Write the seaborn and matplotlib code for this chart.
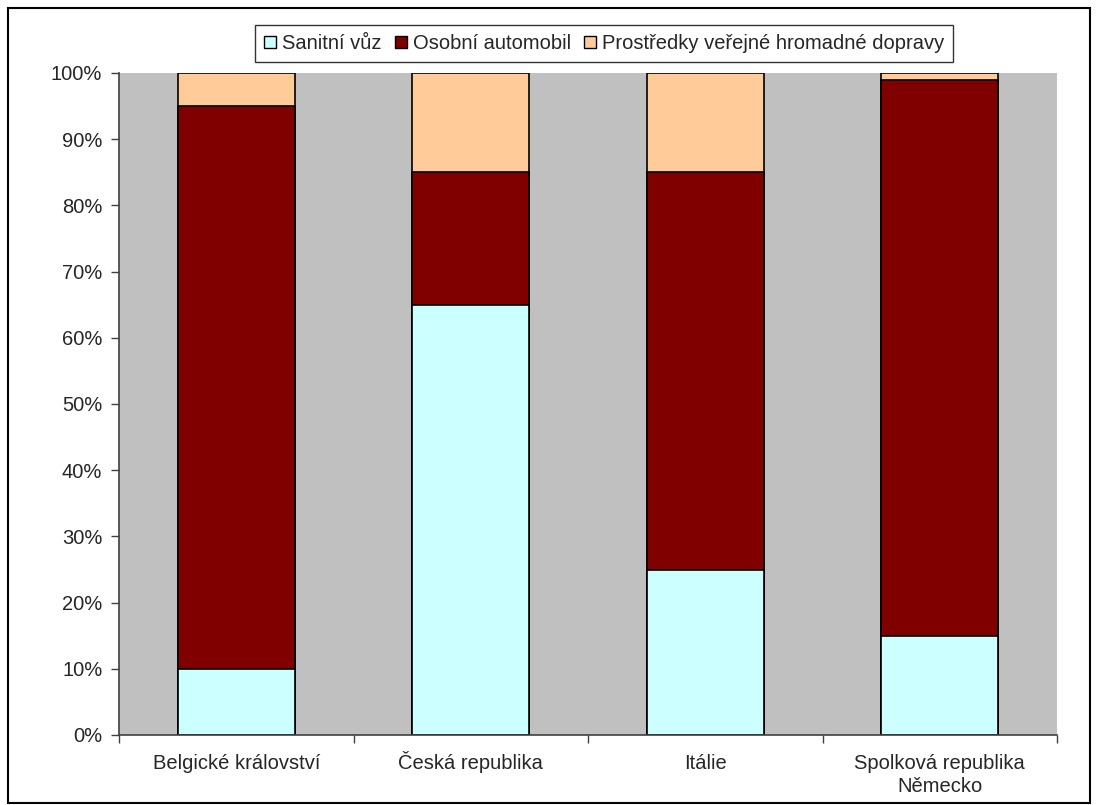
import matplotlib
matplotlib.use("Agg")
import matplotlib.pyplot as plt
import matplotlib.ticker as mticker
import matplotlib.transforms as mtransforms
from matplotlib.patches import Rectangle, Patch
import numpy as np
import pandas as pd
import seaborn as sns

countries = ["Belgické království", "Česká republika", "Itálie", "Spolková republika\nNěmecko"]
series_names = ["Sanitní vůz", "Osobní automobil", "Prostředky veřejné hromadné dopravy"]
sanitni = [10, 65, 25, 15]
osobni = [85, 20, 60, 84]
verejne = [5, 15, 15, 1]
colors = ["#CCFFFF", "#800000", "#FFCC99"]

sns.set_theme(style="white")
plt.rcParams["font.family"] = ["Liberation Sans", "DejaVu Sans"]

df = pd.DataFrame({"country": countries, "s1": sanitni, "s2": osobni, "s3": verejne})
df["c1"] = df["s1"]
df["c2"] = df["s1"] + df["s2"]
df["c3"] = df["c2"] + df["s3"]

fig = plt.figure(figsize=(10.98, 8.05), dpi=100)
ax = fig.add_axes([119 / 1098, 1 - 735 / 805, (1057 - 119) / 1098, (735 - 73) / 805])
ax.set_facecolor("#C0C0C0")

# stacked bars drawn as cumulative layers, tallest first
for col, color in zip(["c3", "c2", "c1"], colors[::-1]):
    sns.barplot(data=df, x="country", y=col, color=color, saturation=1,
                width=0.5, edgecolor="black", linewidth=1.2, ax=ax, zorder=2)

ax.set_xlim(-0.5, 3.5)
ax.set_ylim(0, 100)
ax.set_xlabel("")
ax.set_ylabel("")
ax.yaxis.set_major_locator(mticker.MultipleLocator(10))
ax.yaxis.set_major_formatter(mticker.FuncFormatter(lambda v, p: f"{int(v)}%"))
ax.set_xticks(range(4))
ax.set_xticklabels(countries, fontsize=14.5, linespacing=1.25)
ax.set_xticks(np.arange(-0.5, 4, 1), minor=True)
ax.tick_params(axis="x", which="major", length=0, pad=13.5)
ax.tick_params(axis="x", which="minor", length=6, width=1, color="#404040", direction="out", bottom=True)
ax.tick_params(axis="y", length=6, width=1, color="#404040", direction="out", left=True, labelsize=14.5, pad=6)
for lbl in ax.get_xticklabels():
    lbl.set_horizontalalignment("center")
    lbl.set_verticalalignment("top")
    lbl.set_multialignment("center")
    # the caron on "Č" raises the ink top; lift that label so baselines line up
    if lbl.get_text().startswith("Č"):
        lbl.set_transform(lbl.get_transform() +
                          mtransforms.ScaledTranslation(0, 3 / 100, fig.dpi_scale_trans))

for s in ["top", "right"]:
    ax.spines[s].set_visible(False)
for s in ["left", "bottom"]:
    ax.spines[s].set_color("#404040")
    ax.spines[s].set_linewidth(1.2)

handles = [Patch(facecolor=c, edgecolor="black", linewidth=1) for c in colors]
fig.legend(handles, series_names, loc="center", bbox_to_anchor=(604 / 1098, 1 - 43.5 / 805),
           ncol=3, frameon=True, fontsize=14.5, handlelength=0.6, handleheight=0.6,
           handletextpad=0.3, columnspacing=0.65, borderpad=0.45, fancybox=False,
           edgecolor="black", borderaxespad=0)
leg = fig.legends[0]
leg.get_frame().set_linewidth(1)

fig.patches.append(Rectangle((8 / 1098, 1 - 803 / 805), 1082 / 1098, 795 / 805,
                             transform=fig.transFigure, fill=False, edgecolor="black",
                             linewidth=1.5))

fig.savefig("out.png", dpi=100, facecolor="white")
